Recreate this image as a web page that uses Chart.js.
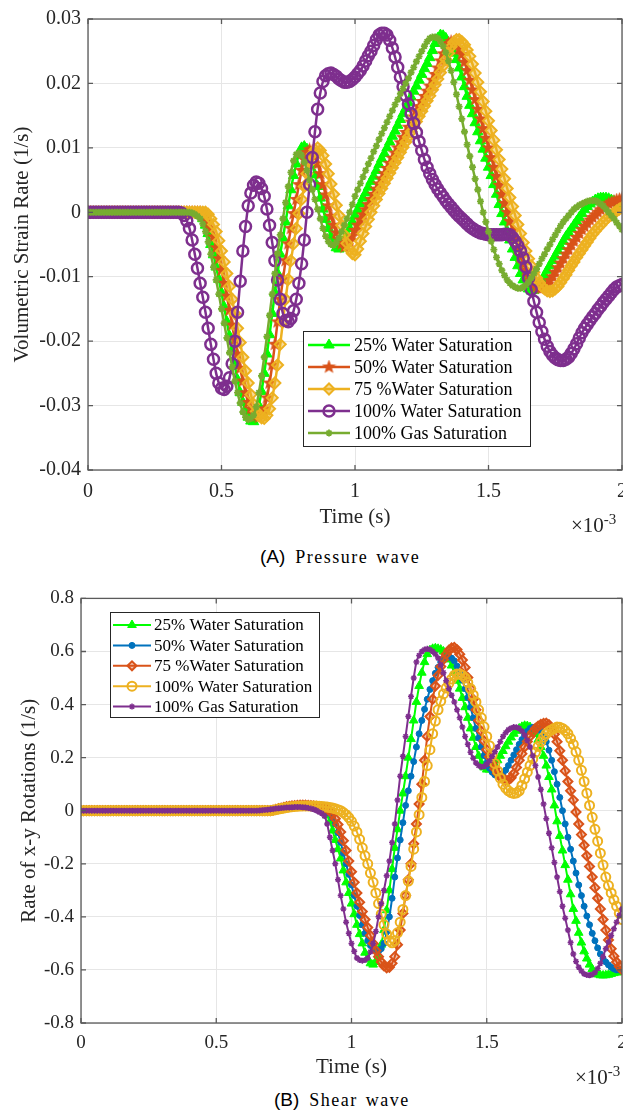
<!DOCTYPE html>
<html>
<head>
<meta charset="utf-8">
<title>Pressure and shear wave response</title>
<script src="https://cdn.jsdelivr.net/npm/chart.js@4.4.1/dist/chart.umd.min.js"></script>
<style>
  body { margin: 0; width: 623px; height: 1112px; overflow: hidden; background: #fff; position: relative; }
  canvas { position: absolute; left: 0; }
  .expo { position: absolute; font-family: 'Liberation Serif', serif; font-size: 21px; color: #262626; white-space: nowrap; line-height: 24px; }
  .expo sup { font-size: 15px; }
  .cap { position: absolute; white-space: nowrap; color: #000; line-height: 24px; }
  .cap b { font-family: 'Liberation Sans', Arial, sans-serif; font-weight: normal; font-size: 19px; margin-right: 6px; }
  .cap span { font-family: 'Liberation Serif', serif; font-size: 18px; letter-spacing: 1.5px; word-spacing: 2px; }
</style>
</head>
<body>
<canvas id="pressureChart" width="640" height="530" style="top:0"></canvas>
<div class="expo" style="left:571px; top:507px">×10<sup>-3</sup></div>
<div class="cap" style="left:260px; top:545px"><b>(A)</b> <span>Pressure wave</span></div>

<canvas id="shearChart" width="640" height="500" style="top:580px"></canvas>
<div class="expo" style="left:575px; top:1059px">×10<sup>-3</sup></div>
<div class="cap" style="left:274px; top:1088px"><b>(B)</b> <span>Shear wave</span></div>

<script>
// Time axis (x 10^-3 s)
const timeMs = [
  0, 0.01, 0.02, 0.03, 0.04, 0.05, 0.06, 0.07, 0.08, 0.09,
  0.1, 0.11, 0.12, 0.13, 0.14, 0.15, 0.16, 0.17, 0.18, 0.19,
  0.2, 0.21, 0.22, 0.23, 0.24, 0.25, 0.26, 0.27, 0.28, 0.29,
  0.3, 0.31, 0.32, 0.33, 0.34, 0.35, 0.36, 0.37, 0.38, 0.39,
  0.4, 0.41, 0.42, 0.43, 0.44, 0.45, 0.46, 0.47, 0.48, 0.49,
  0.5, 0.51, 0.52, 0.53, 0.54, 0.55, 0.56, 0.57, 0.58, 0.59,
  0.6, 0.61, 0.62, 0.63, 0.64, 0.65, 0.66, 0.67, 0.68, 0.69,
  0.7, 0.71, 0.72, 0.73, 0.74, 0.75, 0.76, 0.77, 0.78, 0.79,
  0.8, 0.81, 0.82, 0.83, 0.84, 0.85, 0.86, 0.87, 0.88, 0.89,
  0.9, 0.91, 0.92, 0.93, 0.94, 0.95, 0.96, 0.97, 0.98, 0.99,
  1, 1.01, 1.02, 1.03, 1.04, 1.05, 1.06, 1.07, 1.08, 1.09,
  1.1, 1.11, 1.12, 1.13, 1.14, 1.15, 1.16, 1.17, 1.18, 1.19,
  1.2, 1.21, 1.22, 1.23, 1.24, 1.25, 1.26, 1.27, 1.28, 1.29,
  1.3, 1.31, 1.32, 1.33, 1.34, 1.35, 1.36, 1.37, 1.38, 1.39,
  1.4, 1.41, 1.42, 1.43, 1.44, 1.45, 1.46, 1.47, 1.48, 1.49,
  1.5, 1.51, 1.52, 1.53, 1.54, 1.55, 1.56, 1.57, 1.58, 1.59,
  1.6, 1.61, 1.62, 1.63, 1.64, 1.65, 1.66, 1.67, 1.68, 1.69,
  1.7, 1.71, 1.72, 1.73, 1.74, 1.75, 1.76, 1.77, 1.78, 1.79,
  1.8, 1.81, 1.82, 1.83, 1.84, 1.85, 1.86, 1.87, 1.88, 1.89,
  1.9, 1.91, 1.92, 1.93, 1.94, 1.95, 1.96, 1.97, 1.98, 1.99,
  2
];
const timeTicks = [0, 0.5, 1, 1.5, 2];
const pressureTicks = [-0.04, -0.03, -0.02, -0.01, 0, 0.01, 0.02, 0.03];
const shearTicks = [-0.8, -0.6, -0.4, -0.2, 0, 0.2, 0.4, 0.6, 0.8];
const seriesNames = ['25% Water Saturation', '50% Water Saturation', '75 %Water Saturation', '100% Water Saturation', '100% Gas Saturation'];

// (A) Volumetric strain rate (1/s)
const pWater25 = [
  0, 0, 0, 0, 0, 0, 0, 0, 0, 0, 0, 0, 0, 0, 0, 0, 0, 0, 0, 0,
  0, 0, 0, 0, 0, 0, 0, 0, 0, 0, 0, 0, 0, 0, 0, 0, 0, 0, 0, 0, 0,
  -0.0001, -0.0005, -0.001, -0.002, -0.0033, -0.005, -0.0066, -0.0085, -0.0104, -0.0125,
  -0.0147, -0.017, -0.0192, -0.0215, -0.0238, -0.026, -0.028, -0.0295, -0.0308, -0.0318,
  -0.0324, -0.0325, -0.0318, -0.030, -0.0278, -0.025, -0.022, -0.019, -0.0157, -0.0125,
  -0.0095, -0.0065, -0.004, -0.0015, 0.001, 0.0035, 0.0057, 0.0075, 0.009, 0.010,
  0.0102, 0.0098, 0.0088, 0.0075, 0.0058, 0.004, 0.0022, 0.0005, -0.0011, -0.0025,
  -0.0038, -0.0048, -0.0055, -0.0057, -0.0053, -0.0045, -0.0035, -0.0025, -0.0015, -0.0005,
  0.0004, 0.0013, 0.0022, 0.003, 0.0039, 0.0048, 0.0056, 0.0065, 0.0074, 0.0083,
  0.0091, 0.010, 0.0109, 0.0118, 0.0126, 0.0135, 0.0144, 0.0153, 0.0161, 0.017,
  0.0179, 0.0188, 0.0196, 0.0205, 0.0214, 0.0223, 0.0231, 0.024, 0.0251, 0.0262,
  0.027, 0.0275, 0.0274, 0.027, 0.0263, 0.0255, 0.0247, 0.0237, 0.0224, 0.021,
  0.0195, 0.018, 0.0166, 0.0153, 0.0139, 0.0125, 0.0111, 0.0098, 0.0084, 0.007,
  0.0057, 0.0043, 0.0028, 0.0012, -0.0002, -0.0015, -0.0029, -0.0043, -0.0057, -0.007,
  -0.0083, -0.0095, -0.0105, -0.0113, -0.0119, -0.0122, -0.0121, -0.0118, -0.0112, -0.0105,
  -0.0098, -0.009, -0.0083, -0.0075, -0.0068, -0.006, -0.0053, -0.0045, -0.0038, -0.0032,
  -0.0026, -0.002, -0.0014, -0.0008, -0.0002, 0.0004, 0.0009, 0.0013, 0.0016, 0.0019,
  0.0021, 0.0022, 0.0022, 0.0022, 0.0021, 0.0019, 0.0017, 0.0015, 0.0013, 0.0012
];
const pWater50 = [
  0, 0, 0, 0, 0, 0, 0, 0, 0, 0, 0, 0, 0, 0, 0, 0, 0, 0, 0, 0,
  0, 0, 0, 0, 0, 0, 0, 0, 0, 0, 0, 0, 0, 0, 0, 0, 0, 0, 0, 0, 0,
  0, 0, -0.0003, -0.0008, -0.0015, -0.0025, -0.0038, -0.0055, -0.0072, -0.009,
  -0.011, -0.013, -0.0152, -0.0175, -0.0198, -0.022, -0.0242, -0.0262, -0.028, -0.0295,
  -0.0305, -0.0312, -0.0316, -0.0318, -0.0314, -0.0305, -0.0288, -0.0265, -0.0237, -0.0205,
  -0.017, -0.0135, -0.0104, -0.0075, -0.0049, -0.0025, -0.0002, 0.002, 0.0043, 0.0065,
  0.0082, 0.0093, 0.0097, 0.0095, 0.0087, 0.0075, 0.006, 0.0043, 0.0027, 0.001,
  -0.0006, -0.002, -0.0032, -0.0042, -0.0049, -0.0054, -0.0052, -0.0045, -0.0037, -0.0028,
  -0.002, -0.0012, -0.0004, 0.0004, 0.0012, 0.002, 0.0028, 0.0036, 0.0044, 0.0052,
  0.006, 0.0068, 0.0076, 0.0084, 0.0092, 0.010, 0.0108, 0.0116, 0.0124, 0.0132,
  0.014, 0.0148, 0.0156, 0.0164, 0.0172, 0.018, 0.0188, 0.0196, 0.0205, 0.0214,
  0.0224, 0.0235, 0.0246, 0.0255, 0.0262, 0.0265, 0.0264, 0.026, 0.0253, 0.0245,
  0.0233, 0.022, 0.0205, 0.019, 0.0175, 0.016, 0.0145, 0.013, 0.0115, 0.010,
  0.0085, 0.007, 0.0056, 0.0042, 0.0028, 0.0014, 0.0, -0.0014, -0.0028, -0.0042,
  -0.0055, -0.0068, -0.008, -0.009, -0.0099, -0.0106, -0.0112, -0.0116, -0.0118, -0.0118,
  -0.0116, -0.0112, -0.0106, -0.010, -0.0093, -0.0086, -0.0079, -0.0072, -0.0065, -0.0058,
  -0.0051, -0.0045, -0.0039, -0.0033, -0.0027, -0.0022, -0.0017, -0.0012, -0.0008, -0.0004,
  0.0, 0.0004, 0.0007, 0.001, 0.0013, 0.0015, 0.0017, 0.0019, 0.002, 0.0021
];
const pWater75 = [
  0, 0, 0, 0, 0, 0, 0, 0, 0, 0, 0, 0, 0, 0, 0, 0, 0, 0, 0, 0,
  0, 0, 0, 0, 0, 0, 0, 0, 0, 0, 0, 0, 0, 0, 0, 0, 0, 0, 0, 0, 0,
  0, 0, 0, 0, -0.0003, -0.001, -0.0019, -0.003, -0.0044, -0.006,
  -0.0077, -0.0095, -0.0115, -0.0135, -0.0157, -0.018, -0.0202, -0.0225, -0.0246, -0.0265,
  -0.0283, -0.0298, -0.0309, -0.0316, -0.0319, -0.032, -0.0315, -0.0305, -0.0288, -0.0265,
  -0.0237, -0.0205, -0.017, -0.0135, -0.0104, -0.0075, -0.0049, -0.0025, -0.0002, 0.002,
  0.004, 0.006, 0.0077, 0.009, 0.0097, 0.010, 0.0096, 0.0088, 0.0075, 0.006,
  0.0044, 0.0028, 0.0011, -0.0005, -0.002, -0.0035, -0.0048, -0.0058, -0.0064, -0.0066,
  -0.0057, -0.0045, -0.0033, -0.0022, -0.0011, 0.0, 0.001, 0.002, 0.0029, 0.0037,
  0.0045, 0.0053, 0.0061, 0.0069, 0.0077, 0.0085, 0.0093, 0.0101, 0.0109, 0.0117,
  0.0125, 0.0133, 0.0141, 0.0149, 0.0157, 0.0165, 0.0173, 0.0181, 0.019, 0.0198,
  0.0207, 0.0217, 0.0227, 0.0237, 0.0247, 0.0257, 0.0264, 0.0268, 0.0268, 0.0265,
  0.026, 0.0252, 0.0242, 0.023, 0.0216, 0.0202, 0.0187, 0.0172, 0.0157, 0.0142,
  0.0127, 0.0112, 0.0097, 0.0082, 0.0067, 0.0052, 0.0037, 0.0023, 0.0009, -0.0005,
  -0.0019, -0.0033, -0.0047, -0.006, -0.0072, -0.0083, -0.0093, -0.0102, -0.0109, -0.0115,
  -0.0119, -0.0122, -0.0123, -0.0122, -0.0119, -0.0115, -0.0109, -0.0103, -0.0097, -0.009,
  -0.0083, -0.0077, -0.007, -0.0064, -0.0058, -0.0052, -0.0046, -0.004, -0.0034, -0.0029,
  -0.0024, -0.002, -0.0015, -0.0011, -0.0007, -0.0004, -0.0001, 0.0002, 0.0005, 0.0007
];
const pWater100 = [
  0, 0, 0, 0, 0, 0, 0, 0, 0, 0, 0, 0, 0, 0, 0, 0, 0, 0,
  0, 0, 0, 0, 0, 0, 0, 0, 0, 0, 0, 0, 0, 0, 0, 0, 0,
  -0.0001, -0.0005, -0.0013, -0.0025, -0.0043, -0.0065,
  -0.0087, -0.011, -0.0132, -0.0155, -0.018, -0.0205, -0.0228, -0.025, -0.0265, -0.0273,
  -0.0275, -0.027, -0.0257, -0.0235, -0.02, -0.0155, -0.0107, -0.006, -0.0022, 0.001,
  0.003, 0.0042, 0.0047, 0.0045, 0.0037, 0.0025, 0.0005, -0.002, -0.0047, -0.0075,
  -0.0105, -0.0135, -0.0157, -0.0168, -0.017, -0.0165, -0.0153, -0.0135, -0.011, -0.008,
  -0.0043, 0.0, 0.0043, 0.0085, 0.0125, 0.016, 0.0185, 0.0203, 0.0212, 0.0215,
  0.0216, 0.0214, 0.0211, 0.0207, 0.0204, 0.0202, 0.0202, 0.0203, 0.0206, 0.021,
  0.0215, 0.022, 0.0227, 0.0235, 0.0243, 0.025, 0.0259, 0.0268, 0.0275, 0.0278,
  0.0278, 0.0275, 0.0267, 0.0255, 0.0241, 0.0225, 0.021, 0.0195, 0.0181, 0.0168,
  0.0153, 0.0138, 0.0124, 0.011, 0.0096, 0.0082, 0.007, 0.006, 0.0051, 0.0043,
  0.0036, 0.003, 0.0024, 0.0018, 0.0013, 0.0008, 0.0003, -0.0002, -0.0006, -0.001,
  -0.0014, -0.0018, -0.0022, -0.0025, -0.0028, -0.003, -0.0032, -0.0033, -0.0034, -0.0035,
  -0.0035, -0.0035, -0.0035, -0.0035, -0.0035, -0.0034, -0.0034, -0.0035, -0.0039, -0.0045,
  -0.0052, -0.006, -0.0071, -0.0085, -0.0102, -0.012, -0.0138, -0.0155, -0.0171, -0.0185,
  -0.0197, -0.0208, -0.0216, -0.0222, -0.0226, -0.0229, -0.023, -0.023, -0.0228, -0.0225,
  -0.0219, -0.0212, -0.0204, -0.0195, -0.0187, -0.018, -0.0174, -0.0168, -0.0162, -0.0157,
  -0.0151, -0.0146, -0.014, -0.0135, -0.013, -0.0125, -0.012, -0.0116, -0.0114, -0.0112
];
const pGas100 = [
  0, 0, 0, 0, 0, 0, 0, 0, 0, 0, 0, 0, 0, 0, 0, 0, 0, 0, 0, 0,
  0, 0, 0, 0, 0, 0, 0, 0, 0, 0, 0, 0, 0, 0, 0, 0, 0, 0, 0,
  -0.0001, -0.0003,
  -0.0006, -0.001, -0.0018, -0.003, -0.0046, -0.0065, -0.0085, -0.0105, -0.0127, -0.015,
  -0.0172, -0.0195, -0.0218, -0.024, -0.0262, -0.028, -0.0296, -0.031, -0.0318, -0.0322,
  -0.032, -0.0315, -0.0302, -0.028, -0.0254, -0.0225, -0.0193, -0.016, -0.0127, -0.0095,
  -0.0064, -0.0035, -0.001, 0.0015, 0.004, 0.0062, 0.008, 0.009, 0.0092, 0.0088,
  0.0078, 0.0065, 0.005, 0.0035, 0.002, 0.0005, -0.001, -0.0025, -0.0037, -0.0045,
  -0.005, -0.0051, -0.0047, -0.004, -0.003, -0.002, -0.001, 0.0, 0.0012, 0.0025,
  0.0035, 0.0045, 0.0055, 0.0065, 0.0075, 0.0084, 0.0094, 0.0103, 0.0113, 0.0122,
  0.0131, 0.014, 0.0149, 0.0158, 0.0167, 0.0175, 0.0184, 0.0192, 0.02, 0.0208,
  0.0217, 0.0225, 0.0234, 0.0242, 0.025, 0.0258, 0.0265, 0.027, 0.0272, 0.0272,
  0.027, 0.0265, 0.0258, 0.0248, 0.0235, 0.022, 0.0202, 0.0183, 0.0164, 0.0145,
  0.0125, 0.0105, 0.0087, 0.007, 0.0052, 0.0035, 0.0017, 0.0, -0.0015, -0.003,
  -0.0045, -0.0058, -0.007, -0.008, -0.009, -0.0098, -0.0105, -0.011, -0.0114, -0.0116,
  -0.0118, -0.0118, -0.0116, -0.0113, -0.0108, -0.0102, -0.0095, -0.0088, -0.008, -0.0072,
  -0.0065, -0.0057, -0.005, -0.0042, -0.0035, -0.0028, -0.0021, -0.0015, -0.001, -0.0005,
  0.0, 0.0005, 0.0008, 0.0011, 0.0013, 0.0015, 0.0017, 0.0018, 0.0018, 0.0018,
  0.0016, 0.0013, 0.001, 0.0005, 0.0, -0.0005, -0.001, -0.0016, -0.0021, -0.0027
];

// (B) Rate of x-y rotations (1/s)
const sWater25 = [
  0, 0, 0, 0, 0, 0, 0, 0, 0, 0, 0, 0, 0, 0, 0, 0, 0, 0, 0, 0, 0, 0, 0, 0, 0,
  0, 0, 0, 0, 0, 0, 0, 0, 0, 0, 0, 0, 0, 0, 0, 0, 0, 0, 0, 0, 0, 0, 0, 0, 0,
  0, 0, 0, 0, 0, 0, 0, 0, 0, 0, 0, 0, 0, 0, 0, 0, 0, 0, 0, 0, 0,
  0.002, 0.005, 0.008, 0.01, 0.012, 0.013, 0.014, 0.015, 0.016, 0.016,
  0.016, 0.016, 0.015, 0.014, 0.012, 0.01, 0.008, 0.005, 0.001, -0.005,
  -0.018, -0.04, -0.075, -0.11, -0.145, -0.18, -0.225, -0.27, -0.31, -0.35,
  -0.39, -0.43, -0.465, -0.5, -0.535, -0.56, -0.575, -0.58, -0.57, -0.55,
  -0.505, -0.45, -0.375, -0.3, -0.22, -0.14, -0.07, 0.0, 0.065, 0.13,
  0.2, 0.27, 0.34, 0.41, 0.47, 0.52, 0.56, 0.59, 0.605, 0.61,
  0.612, 0.61, 0.607, 0.6, 0.588, 0.57, 0.547, 0.52, 0.49, 0.46,
  0.425, 0.39, 0.35, 0.31, 0.275, 0.24, 0.207, 0.18, 0.163, 0.155,
  0.155, 0.16, 0.173, 0.19, 0.207, 0.225, 0.243, 0.26, 0.276, 0.29,
  0.301, 0.31, 0.316, 0.32, 0.319, 0.315, 0.304, 0.29, 0.267, 0.24,
  0.207, 0.17, 0.127, 0.08, 0.02, -0.04, -0.095, -0.15, -0.205, -0.26,
  -0.315, -0.37, -0.415, -0.46, -0.497, -0.53, -0.557, -0.58, -0.597, -0.61,
  -0.617, -0.62, -0.621, -0.62, -0.618, -0.615, -0.612, -0.61, -0.605, -0.6
];
const sWater50 = [
  0, 0, 0, 0, 0, 0, 0, 0, 0, 0, 0, 0, 0, 0, 0, 0, 0, 0, 0, 0, 0, 0, 0, 0, 0,
  0, 0, 0, 0, 0, 0, 0, 0, 0, 0, 0, 0, 0, 0, 0, 0, 0, 0, 0, 0, 0, 0, 0, 0, 0,
  0, 0, 0, 0, 0, 0, 0, 0, 0, 0, 0, 0, 0, 0, 0, 0, 0, 0, 0, 0, 0,
  0.002, 0.004, 0.006, 0.008, 0.010, 0.012, 0.0135, 0.015, 0.016, 0.017,
  0.0175, 0.018, 0.0178, 0.017, 0.016, 0.015, 0.013, 0.011, 0.008, 0.005,
  -0.001, -0.01, -0.027, -0.05, -0.083, -0.12, -0.16, -0.2, -0.24, -0.28,
  -0.32, -0.36, -0.395, -0.43, -0.462, -0.49, -0.508, -0.52, -0.527, -0.53,
  -0.52, -0.5, -0.457, -0.4, -0.33, -0.25, -0.178, -0.11, -0.045, 0.02,
  0.075, 0.13, 0.185, 0.24, 0.29, 0.34, 0.382, 0.42, 0.457, 0.49,
  0.518, 0.54, 0.56, 0.575, 0.58, 0.58, 0.575, 0.565, 0.545, 0.52,
  0.492, 0.46, 0.426, 0.39, 0.35, 0.31, 0.274, 0.24, 0.208, 0.18,
  0.16, 0.145, 0.135, 0.13, 0.132, 0.14, 0.153, 0.17, 0.19, 0.21,
  0.23, 0.25, 0.268, 0.285, 0.299, 0.31, 0.314, 0.315, 0.31, 0.3,
  0.283, 0.26, 0.228, 0.19, 0.147, 0.1, 0.05, 0.0, -0.05, -0.1,
  -0.145, -0.19, -0.235, -0.28, -0.32, -0.36, -0.397, -0.43, -0.462, -0.49,
  -0.517, -0.54, -0.557, -0.57, -0.581, -0.59, -0.596, -0.6, -0.6, -0.6
];
const sWater75 = [
  0, 0, 0, 0, 0, 0, 0, 0, 0, 0, 0, 0, 0, 0, 0, 0, 0, 0, 0, 0, 0, 0, 0, 0, 0,
  0, 0, 0, 0, 0, 0, 0, 0, 0, 0, 0, 0, 0, 0, 0, 0, 0, 0, 0, 0, 0, 0, 0, 0, 0,
  0, 0, 0, 0, 0, 0, 0, 0, 0, 0, 0, 0, 0, 0, 0, 0, 0, 0, 0, 0, 0,
  0.002, 0.005, 0.0075, 0.01, 0.0125, 0.015, 0.0165, 0.018, 0.019, 0.02,
  0.0205, 0.021, 0.0205, 0.02, 0.019, 0.018, 0.0165, 0.015, 0.0125, 0.01,
  0.006, 0.0, -0.012, -0.03, -0.052, -0.08, -0.113, -0.15, -0.19, -0.23,
  -0.27, -0.31, -0.345, -0.38, -0.41, -0.44, -0.47, -0.5, -0.527, -0.55,
  -0.57, -0.585, -0.592, -0.59, -0.575, -0.55, -0.505, -0.45, -0.387, -0.32,
  -0.26, -0.2, -0.125, -0.05, 0.025, 0.1, 0.19, 0.28, 0.355, 0.42,
  0.47, 0.51, 0.543, 0.57, 0.59, 0.605, 0.613, 0.615, 0.607, 0.59,
  0.568, 0.54, 0.502, 0.46, 0.42, 0.38, 0.34, 0.3, 0.263, 0.23,
  0.203, 0.18, 0.158, 0.14, 0.128, 0.12, 0.115, 0.115, 0.124, 0.14,
  0.163, 0.19, 0.215, 0.24, 0.261, 0.28, 0.296, 0.31, 0.319, 0.325,
  0.329, 0.33, 0.324, 0.31, 0.288, 0.26, 0.226, 0.19, 0.15, 0.11,
  0.075, 0.04, -0.005, -0.05, -0.09, -0.13, -0.17, -0.21, -0.25, -0.29,
  -0.33, -0.37, -0.41, -0.45, -0.487, -0.52, -0.548, -0.57, -0.587, -0.6
];
const sWater100 = [
  0, 0, 0, 0, 0, 0, 0, 0, 0, 0, 0, 0, 0, 0, 0, 0, 0, 0, 0, 0, 0, 0, 0, 0, 0,
  0, 0, 0, 0, 0, 0, 0, 0, 0, 0, 0, 0, 0, 0, 0, 0, 0, 0, 0, 0, 0, 0, 0, 0, 0,
  0, 0, 0, 0, 0, 0, 0, 0, 0, 0, 0, 0, 0, 0, 0, 0, 0, 0, 0, 0, 0,
  0.002, 0.004, 0.006, 0.008, 0.010, 0.012, 0.0135, 0.015, 0.016, 0.017,
  0.0175, 0.018, 0.018, 0.018, 0.018, 0.018, 0.0175, 0.017, 0.016, 0.015,
  0.0135, 0.012, 0.01, 0.007, 0.004, 0.0, -0.007, -0.015, -0.026, -0.04,
  -0.058, -0.08, -0.108, -0.14, -0.17, -0.2, -0.235, -0.27, -0.31, -0.35,
  -0.39, -0.43, -0.465, -0.49, -0.498, -0.49, -0.46, -0.42, -0.372, -0.32,
  -0.265, -0.21, -0.145, -0.08, -0.015, 0.05, 0.11, 0.17, 0.23, 0.29,
  0.338, 0.38, 0.413, 0.44, 0.462, 0.48, 0.496, 0.51, 0.515, 0.515,
  0.51, 0.5, 0.483, 0.46, 0.436, 0.41, 0.38, 0.35, 0.316, 0.28,
  0.245, 0.21, 0.178, 0.15, 0.123, 0.1, 0.085, 0.075, 0.068, 0.065,
  0.067, 0.075, 0.095, 0.12, 0.145, 0.17, 0.195, 0.22, 0.242, 0.26,
  0.277, 0.29, 0.299, 0.305, 0.311, 0.315, 0.314, 0.31, 0.302, 0.29,
  0.272, 0.25, 0.222, 0.19, 0.152, 0.11, 0.066, 0.02, -0.025, -0.07,
  -0.115, -0.16, -0.205, -0.25, -0.282, -0.31, -0.336, -0.36, -0.386, -0.41
];
const sGas100 = [
  0, 0, 0, 0, 0, 0, 0, 0, 0, 0, 0, 0, 0, 0, 0, 0, 0, 0, 0, 0, 0, 0, 0, 0, 0,
  0, 0, 0, 0, 0, 0, 0, 0, 0, 0, 0, 0, 0, 0, 0, 0, 0, 0, 0, 0, 0, 0, 0, 0, 0,
  0, 0, 0, 0, 0, 0, 0, 0, 0, 0, 0,
  0, 0, 0, 0, 0, 0.001, 0.002, 0.003, 0.004, 0.005,
  0.0065, 0.008, 0.009, 0.01, 0.011, 0.012, 0.0125, 0.013, 0.0135, 0.014,
  0.0135, 0.013, 0.012, 0.01, 0.008, 0.005, 0.001, -0.005, -0.01, -0.02,
  -0.05, -0.1, -0.15, -0.2, -0.26, -0.32, -0.37, -0.42, -0.462, -0.5,
  -0.53, -0.555, -0.563, -0.565, -0.563, -0.555, -0.532, -0.5, -0.455, -0.4,
  -0.35, -0.3, -0.245, -0.19, -0.12, -0.05, 0.04, 0.13, 0.205, 0.28,
  0.355, 0.43, 0.5, 0.56, 0.585, 0.6, 0.607, 0.61, 0.607, 0.6,
  0.59, 0.575, 0.55, 0.52, 0.49, 0.46, 0.435, 0.41, 0.38, 0.35,
  0.315, 0.28, 0.25, 0.22, 0.198, 0.18, 0.17, 0.165, 0.167, 0.175,
  0.188, 0.205, 0.222, 0.24, 0.26, 0.28, 0.294, 0.305, 0.311, 0.315,
  0.314, 0.31, 0.3, 0.285, 0.265, 0.24, 0.207, 0.17, 0.127, 0.08,
  0.025, -0.03, -0.085, -0.14, -0.195, -0.25, -0.305, -0.36, -0.405, -0.45,
  -0.497, -0.54, -0.568, -0.59, -0.604, -0.615, -0.619, -0.62, -0.617, -0.61,
  -0.595, -0.575, -0.55, -0.52, -0.495, -0.47, -0.445, -0.42, -0.395, -0.37
];

const GREEN = '#00ff00';
const BLUE = '#0072bd';
const ORANGE = '#d95319';
const YELLOW = '#edb120';
const PURPLE = '#7e2f8e';
const OLIVE = '#77ac30';
const SERIF = "'Liberation Serif', 'Times New Roman', serif";
const AXIS_TEXT = '#262626';
const GRID = '#e6e6e6';

// filled five-point star marker
function makeStar(size, color) {
  const c = document.createElement('canvas');
  c.width = size;
  c.height = size;
  const g = c.getContext('2d');
  const r = size / 2;
  g.beginPath();
  for (let k = 0; k < 10; k++) {
    const a = -Math.PI / 2 + k * Math.PI / 5;
    const rr = k % 2 ? r * 0.42 : r;
    g.lineTo(r + rr * Math.cos(a), r + rr * Math.sin(a));
  }
  g.closePath();
  g.fillStyle = color;
  g.fill();
  return c;
}

// axes box with inward tick marks
const boxFrame = {
  id: 'boxFrame',
  afterDatasetsDraw(chart) {
    const { ctx, chartArea: a, scales } = chart;
    ctx.save();
    ctx.strokeStyle = '#5a5a5a';
    ctx.lineWidth = 1.3;
    ctx.strokeRect(a.left, a.top, a.right - a.left, a.bottom - a.top);
    ctx.beginPath();
    scales.x.ticks.forEach(t => {
      const px = scales.x.getPixelForValue(t.value);
      ctx.moveTo(px, a.bottom); ctx.lineTo(px, a.bottom - 5);
      ctx.moveTo(px, a.top); ctx.lineTo(px, a.top + 5);
    });
    scales.y.ticks.forEach(t => {
      const py = scales.y.getPixelForValue(t.value);
      ctx.moveTo(a.left, py); ctx.lineTo(a.left + 5, py);
      ctx.moveTo(a.right, py); ctx.lineTo(a.right - 5, py);
    });
    ctx.stroke();
    ctx.restore();
  }
};

// boxed legend placed inside the axes
const boxLegend = {
  id: 'boxLegend',
  afterDraw(chart, args, o) {
    const ctx = chart.ctx;
    ctx.save();
    ctx.fillStyle = '#fff';
    ctx.fillRect(o.x, o.y, o.w, o.h);
    ctx.strokeStyle = '#262626';
    ctx.lineWidth = 1;
    ctx.strokeRect(o.x + 0.5, o.y + 0.5, o.w, o.h);
    ctx.font = o.fontSize + 'px ' + SERIF;
    ctx.textBaseline = 'middle';
    chart.data.datasets.forEach((ds, i) => {
      const cy = o.y + o.first + i * o.rowH;
      const lx = o.x + o.lineX;
      ctx.strokeStyle = ds.borderColor;
      ctx.lineWidth = ds.borderWidth;
      ctx.beginPath();
      ctx.moveTo(lx, cy);
      ctx.lineTo(lx + o.lineLen, cy);
      ctx.stroke();
      ctx.fillStyle = ds.pointBackgroundColor;
      ctx.strokeStyle = ds.pointBorderColor;
      ctx.lineWidth = ds.pointBorderWidth;
      Chart.helpers.drawPoint(ctx, {
        pointStyle: ds.pointStyle, radius: ds.pointRadius,
        borderWidth: ds.pointBorderWidth, rotation: 0
      }, lx + o.lineLen / 2, cy);
      ctx.fillStyle = '#000';
      ctx.fillText(ds.label, lx + o.lineLen + o.textGap, cy + 1);
    });
    ctx.restore();
  }
};

function series(label, data, color, style, radius, fill, bw, lw, order) {
  return {
    label: label,
    data: data,
    borderColor: color,
    borderWidth: lw,
    pointStyle: style,
    pointRadius: radius,
    pointBackgroundColor: fill,
    pointBorderColor: color,
    pointBorderWidth: bw,
    cubicInterpolationMode: 'monotone',
    order: order
  };
}

function axes(yTicks, yMin, yMax, yWidth, xHeight, yTitle, yTitlePad, tickSize, xPad) {
  return {
    x: {
      type: 'linear', min: 0, max: 2,
      afterBuildTicks: s => { s.ticks = timeTicks.map(v => ({ value: v })); },
      afterFit: s => { s.height = xHeight; },
      grid: { color: GRID, drawTicks: false },
      border: { display: false },
      ticks: { padding: xPad, autoSkip: false, maxRotation: 0, color: AXIS_TEXT,
               font: { family: SERIF, size: tickSize }, callback: v => String(v) },
      title: { display: true, text: 'Time (s)', color: AXIS_TEXT,
               font: { family: SERIF, size: 21 }, padding: { top: 0, bottom: 0 } }
    },
    y: {
      min: yMin, max: yMax,
      afterBuildTicks: s => { s.ticks = yTicks.map(v => ({ value: v })); },
      afterFit: s => { s.width = yWidth; },
      grid: { color: GRID, drawTicks: false },
      border: { display: false },
      ticks: { padding: 7, autoSkip: false, color: AXIS_TEXT,
               font: { family: SERIF, size: tickSize }, callback: v => String(v) },
      title: { display: true, text: yTitle, color: AXIS_TEXT,
               font: { family: SERIF, size: 21 }, padding: { top: yTitlePad, bottom: yTitlePad } }
    }
  };
}

document.addEventListener('DOMContentLoaded', function() {
  initPressureChart();
  initShearChart();
});

function initPressureChart() {
  const ctx = document.getElementById('pressureChart').getContext('2d');
  new Chart(ctx, {
    type: 'line',
    data: {
      labels: timeMs,
      datasets: [
        series(seriesNames[0], pWater25, GREEN, 'triangle', 6, GREEN, 1, 2.5, 5),
        series(seriesNames[1], pWater50, ORANGE, makeStar(15, ORANGE), 7, ORANGE, 1, 2.5, 4),
        series(seriesNames[2], pWater75, YELLOW, 'rectRot', 5.5, 'rgba(237,177,32,0.45)', 2, 2.5, 3),
        series(seriesNames[3], pWater100, PURPLE, 'circle', 5.5, 'rgba(255,255,255,0)', 2.5, 2.5, 2),
        series(seriesNames[4], pGas100, OLIVE, 'star', 3.5, OLIVE, 1.8, 2.5, 1)
      ]
    },
    options: {
      responsive: false,
      animation: false,
      events: [],
      layout: { padding: { top: 17, right: 18, left: 0, bottom: 0 } },
      plugins: {
        legend: { display: false },
        tooltip: { enabled: false },
        boxLegend: { x: 303, y: 331, w: 227, h: 115, first: 14, rowH: 22,
                     lineX: 5, lineLen: 42, textGap: 4, fontSize: 18 }
      },
      scales: axes(pressureTicks, -0.04, 0.03, 88, 60, 'Volumetric Strain Rate (1/s)', 10, 20, 10)
    },
    plugins: [boxFrame, boxLegend]
  });
}

function initShearChart() {
  const ctx = document.getElementById('shearChart').getContext('2d');
  new Chart(ctx, {
    type: 'line',
    data: {
      labels: timeMs,
      datasets: [
        series(seriesNames[0], sWater25, GREEN, 'triangle', 5, GREEN, 1, 2, 5),
        series(seriesNames[1], sWater50, BLUE, 'circle', 3, BLUE, 1, 2, 4),
        series(seriesNames[2], sWater75, ORANGE, 'rectRot', 4.5, 'rgba(217,83,25,0.35)', 2, 2, 3),
        series(seriesNames[3], sWater100, YELLOW, 'circle', 4.5, 'rgba(255,255,255,0)', 2, 2, 2),
        series(seriesNames[4], sGas100, PURPLE, 'star', 3, PURPLE, 1.5, 2, 1)
      ]
    },
    options: {
      responsive: false,
      animation: false,
      events: [],
      layout: { padding: { top: 18, right: 18, left: 0, bottom: 0 } },
      plugins: {
        legend: { display: false },
        tooltip: { enabled: false },
        boxLegend: { x: 110, y: 32, w: 209, h: 105, first: 13, rowH: 20.4,
                     lineX: 3, lineLen: 38, textGap: 3, fontSize: 17 }
      },
      scales: axes(shearTicks, -0.8, 0.8, 81, 57, 'Rate of x-y Rotations (1/s)', 17, 19, 8.5)
    },
    plugins: [boxFrame, boxLegend]
  });
}
</script>
</body>
</html>
